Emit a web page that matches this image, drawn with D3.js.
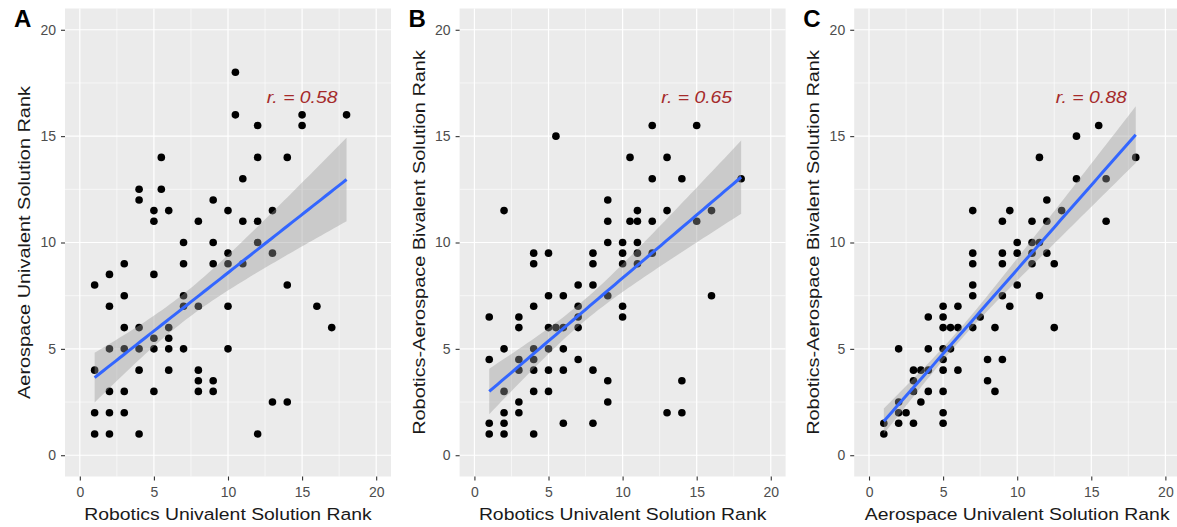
<!DOCTYPE html>
<html>
<head>
<meta charset="utf-8">
<script src="https://cdn.jsdelivr.net/npm/d3@7.9.0/dist/d3.min.js"></script>
<style>
  body { margin: 0; background: #fff; }
  svg { display: block; font-family: "Liberation Sans", Arial, sans-serif; }
</style>
</head>
<body>
<svg id="chart" width="1177" height="527"></svg>
<script>
// panel A: robotics univalent (x) vs aerospace univalent (y)
const panelA = [
  [10.5,18],[10.5,16],[12,15.5],[15,16],[15,15.5],[18,16],[5.5,14],[12,14],[14,14],[11,13],
  [4,12.5],[5.5,12.5],[4,12],[9,12],[5,11.5],[6,11.5],[10,11.5],[13,11.5],[5,11],[8,11],
  [11,11],[12,11],[7,10],[9,10],[12,10],[10,9.5],[13,9.5],[3,9],[7,9],[9,9],[10,9],[11,9],
  [2,8.5],[5,8.5],[1,8],[14,8],[3,7.5],[7,7.5],[2,7],[7,7],[8,7],[10,7],[16,7],[3,6],[4,6],
  [6,6],[17,6],[5,5.5],[6,5.5],[2,5],[3,5],[4,5],[5,5],[6,5],[7,5],[10,5],[1,4],[4,4],[6,4],
  [8,4],[8,3.5],[9,3.5],[2,3],[3,3],[5,3],[8,3],[9,3],[13,2.5],[14,2.5],[1,2],[2,2],[3,2],
  [1,1],[2,1],[4,1],[12,1]
];
// panel B: robotics univalent (x) vs bivalent (y)
const panelB = [
  [2,11.5],[5.5,15],[12,15.5],[15,15.5],[10.5,14],[13,14],[12,13],[14,13],[18,13],[9,12],
  [11,11.5],[13,11.5],[16,11.5],[9,11],[10.5,11],[11,11],[12,11],[15,11],[9,10],[10,10],
  [11,10],[4,9.5],[5,9.5],[8,9.5],[10,9.5],[11,9.5],[12,9.5],[4,9],[8,9],[10,9],[11,9],
  [7,8],[8,8],[5,7.5],[6,7.5],[9,7.5],[16,7.5],[4,7],[7,7],[10,7],[1,6.5],[3,6.5],[7,6.5],
  [10,6.5],[3,6],[5,6],[5.5,6],[6,6],[7,6],[2,5],[4,5],[5,5],[6,5],[1,4.5],[3,4.5],[4,4.5],
  [7,4.5],[3,4],[4,4],[5,4],[6,4],[8,4],[9,3.5],[14,3.5],[2,3],[4,3],[5,3],[3,2.5],[9,2.5],
  [2,2],[3,2],[13,2],[14,2],[1,1.5],[2,1.5],[6,1.5],[8,1.5],[1,1],[2,1],[4,1]
];
// panel C: aerospace univalent (x) vs bivalent (y)
const panelC = [
  [15.5,15.5],[14,15],[11.5,14],[18,14],[14,13],[16,13],[12,12],[7,11.5],[9.5,11.5],[13,11.5],
  [9,11],[11,11],[12,11],[16,11],[10,10],[11,10],[11.5,10],[7,9.5],[9,9.5],[10,9.5],[11,9.5],
  [12,9.5],[7,9],[9,9],[11,9],[12.5,9],[7,8],[10,8],[7,7.5],[9,7.5],[11.5,7.5],[5,7],[6,7],
  [9.5,7],[4,6.5],[5,6.5],[7.5,6.5],[5,6],[5.5,6],[6,6],[7,6],[8.5,6],[12.5,6],[2,5],[4,5],
  [5,5],[5.5,5],[5,4.5],[8,4.5],[9,4.5],[3,4],[3.5,4],[4,4],[5,4],[6,4],[3,3.5],[8,3.5],
  [3,3],[4,3],[5,3],[8.5,3],[2,2.5],[3.5,2.5],[2,2],[2.5,2],[5,2],[1,1.5],[2,1.5],[3,1.5],
  [5,1.5],[1,1]
];

// fitted line and CI band (many points overlap, so refitting drifts)
const smoothX = [1, 18];
const smoothStartY = [3.65, 3.0, 1.6];
const smoothEndY = [12.96, 13.07, 15.07];
const bandHalfStart = [1.17, 1.07, 0.6];
const bandHalfEnd = [1.96, 1.72, 1.33];
const bandHalfMin = [0.65, 0.5, 0.28];

const panelLabels = ['A', 'B', 'C'];
const xTitles = ['Robotics Univalent Solution Rank', 'Robotics Univalent Solution Rank', 'Aerospace Univalent Solution Rank'];
const yTitles = ['Aerospace Univalent Solution Rank', 'Robotics-Aerospace Bivalent Solution Rank', 'Robotics-Aerospace Bivalent Solution Rank'];
const rLabels = ['r. = 0.58', 'r. = 0.65', 'r. = 0.88'];
const majorTicks = [0, 5, 10, 15, 20];
const minorTicks = [2.5, 7.5, 12.5, 17.5];

const svg = d3.select('#chart');
const panelStep = 394.6;

// line + hyperbolic confidence band, the shape lm's band takes
function smoothPath(i) {
  const [x0, x1] = smoothX;
  const lineY = d3.scaleLinear().domain(smoothX).range([smoothStartY[i], smoothEndY[i]]);
  const a = bandHalfMin[i] ** 2;
  const k = Math.sqrt((bandHalfStart[i] ** 2 - a) / (bandHalfEnd[i] ** 2 - a));
  const m = (x0 + x1 * k) / (1 + k);
  const b = (bandHalfStart[i] ** 2 - a) / (m - x0) ** 2;
  return d3.range(0, 61).map(j => {
    const x = x0 + (x1 - x0) * j / 60;
    const y = lineY(x);
    const h = Math.sqrt(a + b * (x - m) ** 2);
    return { x, y, lo: y - h, hi: y + h };
  });
}

[panelA, panelB, panelC].forEach((data, i) => {
  const ox = i * panelStep;
  const g = svg.append('g').attr('transform', `translate(${ox},0)`);
  const x = d3.scaleLinear().domain([-1, 21]).range([65, 391]);
  const y = d3.scaleLinear().domain([-1, 21]).range([476.5, 8.5]);

  g.append('rect')
    .attr('x', 65).attr('y', 8.5)
    .attr('width', 326).attr('height', 468)
    .attr('fill', '#EBEBEB');

  // grid
  g.selectAll('.minx').data(minorTicks).join('line')
    .attr('x1', d => x(d)).attr('x2', d => x(d)).attr('y1', 8.5).attr('y2', 476.5)
    .attr('stroke', '#fff').attr('stroke-width', 0.6);
  g.selectAll('.miny').data(minorTicks).join('line')
    .attr('y1', d => y(d)).attr('y2', d => y(d)).attr('x1', 65).attr('x2', 391)
    .attr('stroke', '#fff').attr('stroke-width', 0.6);
  g.selectAll('.majx').data(majorTicks).join('line')
    .attr('x1', d => x(d)).attr('x2', d => x(d)).attr('y1', 8.5).attr('y2', 476.5)
    .attr('stroke', '#fff').attr('stroke-width', 1.2);
  g.selectAll('.majy').data(majorTicks).join('line')
    .attr('y1', d => y(d)).attr('y2', d => y(d)).attr('x1', 65).attr('x2', 391)
    .attr('stroke', '#fff').attr('stroke-width', 1.2);

  // axes
  const xAxis = g.append('g').attr('transform', 'translate(0,476.5)')
    .call(d3.axisBottom(x).tickValues(majorTicks).tickSize(4).tickPadding(7));
  const yAxis = g.append('g').attr('transform', 'translate(65,0)')
    .call(d3.axisLeft(y).tickValues(majorTicks).tickSize(4).tickPadding(5));
  [xAxis, yAxis].forEach(ax => {
    ax.select('.domain').remove();
    ax.selectAll('line').attr('stroke', '#333').attr('stroke-width', 1.1);
    ax.selectAll('text').attr('fill', '#4D4D4D').style('font-size', '14px')
      .style('font-family', '"Liberation Sans", Arial, sans-serif');
  });

  // points
  g.selectAll('circle').data(data).join('circle')
    .attr('cx', d => x(d[0])).attr('cy', d => y(d[1]))
    .attr('r', 3.8).attr('fill', '#000');

  // smooth
  const fit = smoothPath(i);
  g.append('path').datum(fit)
    .attr('d', d3.area().x(d => x(d.x)).y0(d => y(d.lo)).y1(d => y(d.hi)))
    .attr('fill', '#999').attr('fill-opacity', 0.4);
  g.append('path').datum(fit)
    .attr('d', d3.line().x(d => x(d.x)).y(d => y(d.y)))
    .attr('fill', 'none').attr('stroke', '#3366FF').attr('stroke-width', 3);

  g.append('text')
    .attr('transform', `translate(${x(15)},102.5) scale(1.14,1)`)
    .attr('text-anchor', 'middle')
    .attr('fill', '#A52A2A').style('font-size', '17px').style('font-style', 'italic')
    .text(rLabels[i]);

  // titles
  g.append('text')
    .attr('transform', 'translate(228,519.5) scale(1.14,1)')
    .attr('text-anchor', 'middle').attr('fill', '#1a1a1a').style('font-size', '17px')
    .text(xTitles[i]);
  g.append('text')
    .attr('transform', `translate(30,${(8.5 + 476.5) / 2}) rotate(-90) scale(1.17,1)`)
    .attr('text-anchor', 'middle').attr('fill', '#1a1a1a').style('font-size', '17px')
    .text(yTitles[i]);

  g.append('text')
    .attr('x', 14).attr('y', 27)
    .style('font-size', '24px').style('font-weight', 'bold')
    .text(panelLabels[i]);
});
</script>
</body>
</html>
